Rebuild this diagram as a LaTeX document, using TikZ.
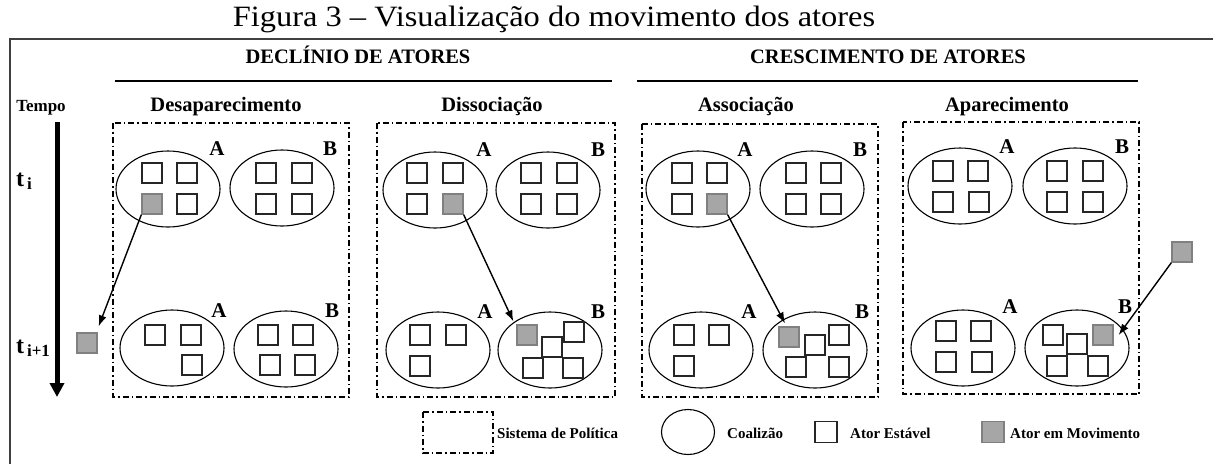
\documentclass[tikz,border=0pt]{standalone}
\usepackage{fontspec}
\setmainfont{Liberation Serif}
\newfontfamily\largo[Ligatures=TeX, FakeStretch=1.1]{Liberation Serif}
\usetikzlibrary{shapes.geometric, arrows.meta, positioning}
\tikzset{
  moldura/.style={draw=black!75, line width=2pt},
  sistema/.style={draw, line width=1.1pt, dash pattern=on 6pt off 3pt on 1.5pt off 3pt},
  coalizao/.style={draw, ellipse, line width=1.1pt, minimum width=104pt, minimum height=76pt, inner sep=0pt},
  ator/.style={draw=black!85, line width=1.3pt, minimum size=20pt, inner sep=0pt},
  movel/.style={ator, draw=black!50, fill=black!35},
  seta/.style={-{Latex[length=11pt,width=8pt]}, line width=1.4pt},
  titulo/.style={font=\largo\fontsize{29.5}{32}\selectfont, anchor=base},
  grupo/.style={font=\bfseries\fontsize{20.5}{22}\selectfont, anchor=base},
  letra/.style={font=\bfseries\fontsize{21}{22}\selectfont, inner sep=0pt},
  legenda/.style={font=\bfseries\fontsize{15}{16}\selectfont, anchor=west, inner sep=0pt},
}

\begin{document}
\begin{tikzpicture}[x=1pt, y=-1pt]
  \useasboundingbox (0,0) rectangle (1213,464);
  % titulo e moldura
  \node[titulo] (tit) at (554,26) {Figura 3 -- Visualização do movimento dos atores};
  \draw[moldura] (10,464) -- (10,39) -- (1213,39);

  % grupos
  \node[grupo] (dec) at (358,63) {DECLÍNIO DE ATORES};
  \node[grupo] (cre) at (888,63) {CRESCIMENTO DE ATORES};
  \draw[line width=1.5pt] (115,81) -- (612,81);
  \draw[line width=1.5pt] (637,81) -- (1138,81);

  % tempo
  \node[grupo, font=\bfseries\fontsize{17}{18}\selectfont] (tempo) at (41,111) {Tempo};
  \draw[line width=5pt, -{Triangle[length=14pt,width=14pt]}] (57,122) -- (57,397);
  \node[font=\bfseries\fontsize{24}{26}\selectfont, anchor=base west, inner sep=0pt] (ti) at (16,186) {t\raisebox{-0.35ex}{\fontsize{17}{18}\selectfont\,i}};
  \node[font=\bfseries\fontsize{24}{26}\selectfont, anchor=base west, inner sep=0pt] (ti1) at (16,353) {t\raisebox{-0.35ex}{\fontsize{17}{18}\selectfont\,i+1}};

  % titulos dos paineis
  \node[grupo] (desap) at (226,111) {Desaparecimento};
  \node[grupo] (disso) at (492,111) {Dissociação};
  \node[grupo] (asso) at (746,111) {Associação};
  \node[grupo] (apar) at (1007,111) {Aparecimento};

  % sistemas de politica
  \draw[sistema] (113,123) rectangle (349,397);
  \draw[sistema] (377,123) rectangle (615,397);
  \draw[sistema] (642,124) rectangle (878,397);
  \draw[sistema] (903,122) rectangle (1139,394);

  % coalizoes
  \foreach \n/\x/\y in {c1tA/168/189, c1tB/282/188, c1bA/172/348, c1bB/286/349,
                        c2tA/435/190, c2tB/548/190, c2bA/438/350, c2bB/550/350,
                        c3tA/698/189, c3tB/812/189, c3bA/701/350, c3bB/815/350,
                        c4tA/960/186, c4tB/1075/186, c4bA/963/348, c4bB/1077/348}
    \node[coalizao] (\n) at (\x,\y) {};

  \foreach \n/\x/\y/\t in {l1tA/217/149/A, l1tB/330/149/B, l1bA/219/311/A, l1bB/332/311/B,
                           l2tA/484/150/A, l2tB/598/150/B, l2bA/485/312/A, l2bB/598/312/B,
                           l3tA/745/150/A, l3tB/860/150/B, l3bA/749/312/A, l3bB/862/312/B,
                           l4tA/1007/147/A, l4tB/1122/147/B, l4bA/1010/307/A, l4bB/1125/307/B}
    \node[letra] (\n) at (\x,\y) {\t};

  % atores estaveis
  \foreach \n/\x/\y in {a11/152/173, a12/187/173, a13/187/204,
                        a14/266/173, a15/302/173, a16/266/204, a17/302/204,
                        a18/155/335, a19/191/335, a110/192/365,
                        a111/268/335, a112/303/335, a113/270/365, a114/305/365}
    \node[ator] (\n) at (\x,\y) {};
  \foreach \n/\x/\y in {a21/417/173, a22/453/173, a23/417/204,
                        a24/531/173, a25/567/173, a26/531/204, a27/567/204,
                        a28/420/335, a29/456/335, a210/420/366,
                        a211/552/347, a212/574/332, a213/533/368, a214/573/368}
    \node[ator] (\n) at (\x,\y) {};
  \foreach \n/\x/\y in {a31/682/173, a32/717/173, a33/682/204,
                        a34/796/173, a35/831/173, a36/796/204, a37/831/204,
                        a38/684/335, a39/719/335, a310/684/366,
                        a311/815/345, a312/839/335, a313/796/367, a314/839/367}
    \node[ator] (\n) at (\x,\y) {};
  \foreach \n/\x/\y in {a41/943/171, a42/978/171, a43/943/202, a44/979/202,
                        a45/1057/171, a46/1093/171, a47/1057/202, a48/1093/202,
                        a49/946/331, a410/981/331, a411/946/362, a412/982/362,
                        a413/1053/335, a414/1077/344, a415/1057/366, a416/1098/366}
    \node[ator] (\n) at (\x,\y) {};

  % atores em movimento
  \node[movel] (sai1) at (152,204) {};
  \node[movel] (fora1) at (87,343) {};
  \node[movel] (sai2) at (453,204) {};
  \node[movel] (entra2) at (527,335) {};
  \node[movel] (sai3) at (717,204) {};
  \node[movel] (entra3) at (789,337) {};
  \node[movel] (fora4) at (1182,252) {};
  \node[movel] (entra4) at (1103,335) {};

  \draw[seta] (sai1.south west) -- ([shift={(1,-6)}]fora1.north east);
  \draw[seta] (sai2.south east) -- ([shift={(-3,-3)}]entra2.north west);
  \draw[seta] (sai3.south east) -- ([shift={(-4,-3)}]entra3.north);
  \draw[seta] (fora4.south west) -- ([shift={(5,0)}]entra4.east);

  % legenda
  \draw[sistema] (423,412) rectangle (493,453);
  \node[legenda] (lsis) at (497,433) {Sistema de Política};
  \node[coalizao, minimum width=53pt, minimum height=45pt] (lcoa) at (688,432) {};
  \node[legenda] (lcoat) at (727,433) {Coalizão};
  \node[ator, minimum width=22pt, minimum height=21pt] (lest) at (826,432) {};
  \node[legenda] (lestt) at (850,433) {Ator Estável};
  \node[movel, minimum width=22pt, minimum height=21pt] (lmov) at (993,432) {};
  \node[legenda] (lmovt) at (1010,433) {Ator em Movimento};
\end{tikzpicture}
\end{document}
